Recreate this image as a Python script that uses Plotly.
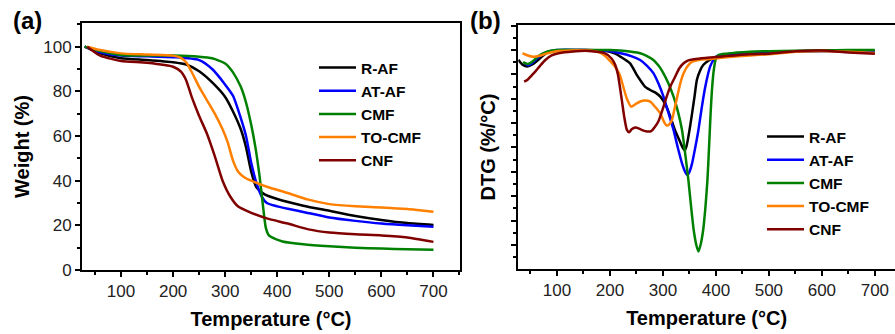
import plotly.graph_objects as go

# ---------------- (a) TGA data: Weight (%) vs Temperature (°C) ----------------
tga_raf_t = [30, 60, 100, 150, 200, 225, 250, 275, 300, 315, 330, 340, 350, 360, 375, 400, 450, 500, 550, 600, 650, 700]
tga_raf_w = [100, 97, 94.8, 94, 93, 92, 89, 84, 77.5, 71, 63, 55, 44, 37, 34, 31.8, 28.8, 26.5, 24.2, 22.4, 21, 20.2]

tga_ataf_t = [30, 60, 100, 150, 200, 250, 275, 300, 315, 330, 340, 350, 360, 370, 380, 400, 450, 500, 550, 600, 650, 700]
tga_ataf_w = [100, 97.5, 96, 95.7, 95.3, 94, 90, 83, 78, 68, 60, 48, 39, 33, 30, 28.5, 26, 23.5, 22, 20.8, 20, 19.4]

tga_cmf_t = [30, 60, 100, 150, 200, 250, 275, 300, 315, 330, 340, 350, 358, 366, 372, 378, 384, 395, 410, 450, 500, 550, 600, 650, 700]
tga_cmf_w = [100, 98, 96.3, 96, 96, 95.5, 94.8, 92.5, 88.5, 82, 75, 65, 55, 42, 30, 19, 15.5, 14, 12.8, 11.5, 10.6, 10, 9.6, 9.3, 9.1]

tga_tocmf_t = [35, 60, 100, 150, 200, 215, 225, 235, 250, 265, 280, 295, 305, 315, 325, 335, 350, 380, 420, 460, 500, 550, 600, 650, 700]
tga_tocmf_w = [100, 98.5, 97, 96.5, 96, 95, 93, 89, 82, 76, 70, 63, 57, 49, 44, 41.8, 40, 37.3, 34.5, 31.5, 29.5, 28.5, 28, 27.3, 26.1]

tga_cnf_t = [35, 60, 100, 150, 200, 215, 225, 235, 250, 265, 280, 295, 310, 325, 350, 380, 420, 460, 500, 550, 600, 650, 700]
tga_cnf_w = [100, 96, 93.6, 92.8, 91, 88.8, 85, 78, 69, 61, 51, 40, 32.8, 28.4, 25.6, 23.1, 20.8, 18.2, 16.8, 16, 15.5, 14.6, 12.6]

# ---------------- (b) DTG data: DTG (%/°C) vs Temperature (°C) ----------------
dtg_raf_t = [27, 35, 44, 55, 65, 80, 100, 140, 190, 210, 220, 238, 250, 257, 266, 276, 286, 295, 305, 314, 322, 330, 337, 341, 345, 350, 355, 360, 364, 370, 376, 385, 395, 420, 464, 500, 550, 600, 650, 700]
dtg_raf_v = [-0.08, -0.12, -0.135, -0.115, -0.08, -0.025, -0.005, 0, -0.005, -0.03, -0.055, -0.11, -0.2, -0.246, -0.3, -0.328, -0.35, -0.383, -0.45, -0.547, -0.65, -0.73, -0.8, -0.825, -0.78, -0.66, -0.52, -0.37, -0.246, -0.17, -0.123, -0.09, -0.068, -0.05, -0.03, -0.022, -0.012, -0.008, -0.01, -0.015]

dtg_ataf_t = [40, 46, 55, 65, 80, 100, 150, 200, 220, 240, 257, 270, 282, 292, 301, 310, 320, 328, 336, 342, 346, 350, 355, 361, 367, 373, 380, 389, 397, 402, 420, 464, 500, 550, 600, 650, 700]
dtg_ataf_v = [-0.11, -0.125, -0.1, -0.06, -0.02, 0, 0, -0.01, -0.027, -0.05, -0.082, -0.13, -0.19, -0.28, -0.383, -0.51, -0.656, -0.8, -0.93, -1.0, -1.025, -1.0, -0.93, -0.8, -0.656, -0.48, -0.3, -0.137, -0.07, -0.05, -0.035, -0.02, -0.015, -0.01, -0.008, -0.01, -0.012]

dtg_cmf_t = [36, 45, 55, 65, 80, 100, 150, 200, 219, 240, 257, 270, 282, 292, 301, 310, 320, 328, 336, 342, 348, 353, 358, 363, 367, 371, 376, 380, 384, 387, 390, 393, 396, 400, 405, 420, 464, 500, 550, 600, 650, 700]
dtg_cmf_v = [-0.1, -0.115, -0.09, -0.05, -0.015, 0, 0, 0, -0.005, -0.015, -0.027, -0.05, -0.082, -0.13, -0.191, -0.27, -0.383, -0.5, -0.656, -0.85, -1.066, -1.28, -1.475, -1.6, -1.653, -1.6, -1.475, -1.3, -1.066, -0.8, -0.519, -0.3, -0.164, -0.07, -0.041, -0.03, -0.014, -0.01, -0.006, -0.003, 0, 0]

dtg_tocmf_t = [35, 45, 55, 65, 80, 100, 150, 180, 191, 200, 210, 218, 225, 232, 240, 248, 257, 266, 276, 286, 295, 302, 307, 312, 317, 322, 327, 333, 339, 347, 355, 370, 385, 420, 464, 500, 550, 600, 650, 700]
dtg_tocmf_v = [-0.025, -0.045, -0.055, -0.05, -0.03, -0.01, -0.003, -0.02, -0.05, -0.09, -0.14, -0.2, -0.3, -0.4, -0.465, -0.445, -0.423, -0.415, -0.423, -0.47, -0.52, -0.59, -0.62, -0.61, -0.574, -0.48, -0.383, -0.27, -0.191, -0.13, -0.096, -0.08, -0.075, -0.06, -0.045, -0.035, -0.015, -0.008, -0.015, -0.025]

dtg_cnf_t = [38, 44, 52, 59, 68, 78, 90, 103, 130, 160, 191, 203, 210, 215, 219, 223, 227, 232, 236, 241, 248, 255, 262, 270, 278, 285, 292, 300, 307, 315, 323, 331, 339, 348, 358, 380, 395, 420, 464, 500, 550, 600, 650, 700]
dtg_cnf_v = [-0.26, -0.246, -0.21, -0.178, -0.13, -0.082, -0.045, -0.027, -0.012, -0.008, -0.027, -0.07, -0.123, -0.2, -0.31, -0.43, -0.55, -0.656, -0.675, -0.65, -0.637, -0.645, -0.66, -0.669, -0.665, -0.63, -0.58, -0.48, -0.383, -0.29, -0.219, -0.15, -0.109, -0.085, -0.076, -0.065, -0.06, -0.05, -0.035, -0.03, -0.01, -0.005, -0.02, -0.03]

names = ["R-AF", "AT-AF", "CMF", "TO-CMF", "CNF"]
colors = ["#000000", "#0000FF", "#008000", "#FF8000", "#800000"]

tga = [(tga_raf_t, tga_raf_w), (tga_ataf_t, tga_ataf_w), (tga_cmf_t, tga_cmf_w),
       (tga_tocmf_t, tga_tocmf_w), (tga_cnf_t, tga_cnf_w)]
dtg = [(dtg_raf_t, dtg_raf_v), (dtg_ataf_t, dtg_ataf_v), (dtg_cmf_t, dtg_cmf_v),
       (dtg_tocmf_t, dtg_tocmf_v), (dtg_cnf_t, dtg_cnf_v)]

FONT = "Liberation Sans, Arial, sans-serif"

fig = go.Figure()
for (t, w), n, c in zip(tga, names, colors):
    fig.add_trace(go.Scatter(x=t, y=w, name=n, mode="lines",
                             line=dict(color=c, width=2.5, shape="spline", smoothing=0.6),
                             xaxis="x", yaxis="y", legend="legend"))
for (t, v), n, c in zip(dtg, names, colors):
    fig.add_trace(go.Scatter(x=t, y=v, name=n, mode="lines",
                             line=dict(color=c, width=2.5, shape="spline", smoothing=0.6),
                             xaxis="x2", yaxis="y2", legend="legend2"))

L, R, T, B = 82, 0, 23, 64
W, H = 895, 334
pw = W - L - R
ph = H - T - B

def px2x(px):
    return (px - L) / pw

def py2y(py):
    return (H - B - py) / ph

axis_common = dict(showline=True, linecolor="black", linewidth=2, ticks="outside",
                   ticklen=5, tickwidth=1.5, tickcolor="black", showgrid=False, zeroline=False,
                   tickfont=dict(family=FONT, size=17, color="#222"))
title_font = dict(family=FONT, size=20, color="black", weight="bold")
minor_x = dict(dtick=50, ticklen=3, ticks="outside", tickwidth=1.5, tickcolor="black")
legend_font = dict(family=FONT, size=15.5, color="black", weight="bold")

fig.update_layout(
    width=W, height=H,
    margin=dict(l=L, r=R, t=T, b=B),
    paper_bgcolor="white", plot_bgcolor="white",
    showlegend=True,
    xaxis=dict(domain=[0, px2x(460)], range=[25, 751], dtick=100, tick0=0, mirror=True,
               minor=minor_x,
               title=dict(text="Temperature (°C)", font=title_font, standoff=12),
               anchor="y", **axis_common),
    yaxis=dict(domain=[0, 1], range=[0, 110.6], dtick=20, tick0=0, mirror=True,
               minor=dict(dtick=10, ticklen=3, ticks="outside", tickwidth=1.5, tickcolor="black"),
               title=dict(text="Weight (%)", font=title_font, standoff=8),
               anchor="x", **axis_common),
    xaxis2=dict(domain=[px2x(518.3), 1], range=[27, 738], dtick=100, tick0=0, mirror=True,
                minor=minor_x,
                title=dict(text="Temperature (°C)", font=title_font, standoff=12),
                anchor="y2", **axis_common),
    yaxis2=dict(domain=[py2y(269), py2y(25)], range=[-1.797, 0.205], dtick=0.2, tick0=0,
                showticklabels=False, mirror=False,
                minor=dict(dtick=0.1, ticklen=3, ticks="outside", tickwidth=1.5, tickcolor="black"),
                title=dict(text="DTG (%/°C)", font=title_font, standoff=10),
                anchor="x2", **axis_common),
    legend=dict(x=px2x(314), y=py2y(51), xref="paper", yref="paper",
                xanchor="left", yanchor="top", bgcolor="rgba(0,0,0,0)",
                font=legend_font, itemwidth=37, tracegroupgap=0),
    legend2=dict(x=px2x(762), y=py2y(120), xref="paper", yref="paper",
                 xanchor="left", yanchor="top", bgcolor="rgba(0,0,0,0)",
                 font=legend_font, itemwidth=37, tracegroupgap=0),
    annotations=[
        dict(text="(a)", x=px2x(11), y=py2y(21), xref="paper", yref="paper",
             xanchor="left", yanchor="middle", showarrow=False,
             font=dict(family=FONT, size=24, color="black", weight="bold")),
        dict(text="(b)", x=px2x(468), y=py2y(21), xref="paper", yref="paper",
             xanchor="left", yanchor="middle", showarrow=False,
             font=dict(family=FONT, size=24, color="black", weight="bold")),
    ],
)

fig.write_html("out.html")
